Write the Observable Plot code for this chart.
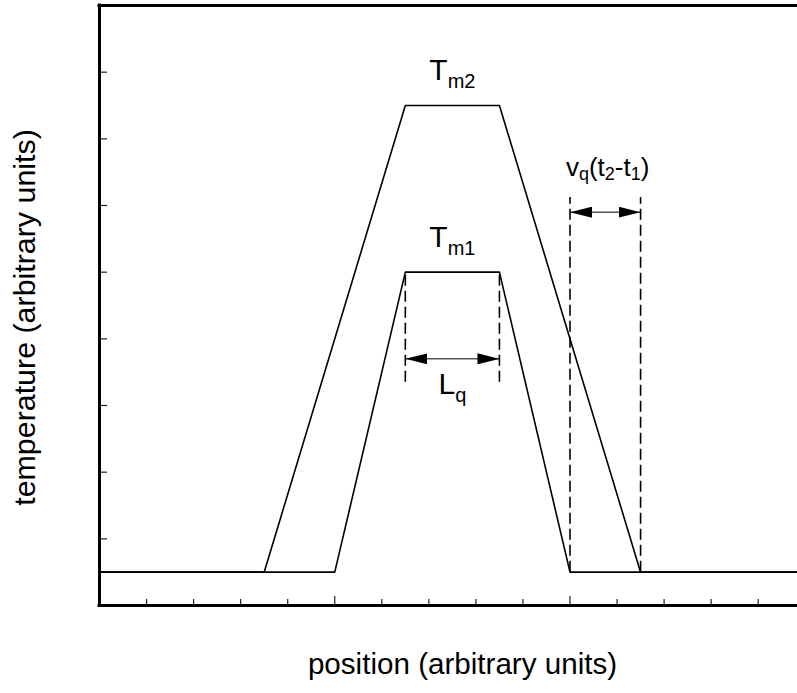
<!DOCTYPE html>
<html>
<head>
<meta charset="utf-8">
<script src="https://cdn.jsdelivr.net/npm/d3@7"></script>
<script src="https://cdn.jsdelivr.net/npm/@observablehq/plot@0.6"></script>
<style>
  html, body { margin: 0; padding: 0; background: #fff; }
  #chart svg { display: block; }
</style>
</head>
<body>
<div id="chart"></div>
<script>
// Temperature profiles at two instants (t1 and t2)
const positions1 = [0, 5, 6.5, 8.5, 10, 15];
const temps1     = [0.5, 0.5, 5, 5, 0.5, 0.5];
const positions2 = [0, 3.5, 6.5, 8.5, 11.5, 15];
const temps2     = [0.5, 0.5, 7.5, 7.5, 0.5, 0.5];

// Dashed guide lines
const guideX      = [6.5, 8.5, 10, 11.5];
const guideTop    = [5, 5, 6.12, 6.12];
const guideBottom = [3.35, 3.35, 0.5, 0.5];

// Double-headed dimension arrows
const arrowX1 = [6.5, 10];
const arrowX2 = [8.5, 11.5];
const arrowY  = [3.7, 5.9];

// Annotations (underscore-braces mark a subscript)
const peakText = ["T_{m2}", "T_{m1}", "L_{q}"];
const peakX    = [7.5, 7.5, 7.5];
const peakY    = [7.89, 5.385, 3.18];
const speedText = ["v_{q}(t_{2}-t_{1})"];
const speedX    = [10.8];
const speedY    = [6.45];

// Axis ticks (no tick labels)
const yTicks = [0, 1, 2, 3, 4, 5, 6, 7, 8, 9];
const xMinorTicks = [1, 2, 3, 4, 6, 7, 8, 9, 11, 12, 13, 14];
const xMajorTicks = [0, 5, 10];

const xLabel = "position (arbitrary units)";
const yLabel = "temperature (arbitrary units)";

const W = 797, H = 693;
const mL = 99, mR = 0, mT = 5, mB = 88;
const frameW = W - mL - mR, frameH = H - mT - mB;

const series = [
  ...positions1.map((x, i) => ({series: "t1", x, y: temps1[i]})),
  ...positions2.map((x, i) => ({series: "t2", x, y: temps2[i]}))
];
const guides = guideX.map((x, i) => ({x, y1: guideBottom[i], y2: guideTop[i]}));
const arrows = arrowX1.map((x1, i) => ({x1, x2: arrowX2[i], y: arrowY[i]}));
const peaks = peakText.map((text, i) => ({text, x: peakX[i], y: peakY[i]}));
const speed = speedText.map((text, i) => ({text, x: speedX[i], y: speedY[i]}));

// Filled, elongated arrowhead
function filledArrow() {
  const m = d3.create("svg:marker")
    .attr("viewBox", "0 -5.5 22 11")
    .attr("markerWidth", 22)
    .attr("markerHeight", 11)
    .attr("markerUnits", "userSpaceOnUse")
    .attr("orient", "auto-start-reverse")
    .attr("refX", 22)
    .attr("refY", 0)
    .attr("fill", "black")
    .attr("stroke", "none");
  m.append("path").attr("d", "M0,-5.5L22,0L0,5.5Z");
  return m.node();
}

const chart = Plot.plot({
  width: W,
  height: H,
  marginLeft: mL,
  marginRight: mR,
  marginTop: mT,
  marginBottom: mB,
  style: {fontFamily: "'Liberation Sans', Arial, sans-serif", background: "#fff", color: "#000"},
  x: {domain: [0, frameW / 47.05], axis: null},
  y: {domain: [0, 9], axis: null},
  marks: [
    // ticks pointing inward
    Plot.tickY(yTicks, {y: d => d, insetRight: frameW - 8, stroke: "#222", strokeWidth: 1.2}),
    Plot.tickX(xMinorTicks, {x: d => d, insetTop: frameH - 6, stroke: "#222", strokeWidth: 1.2}),
    Plot.tickX(xMajorTicks, {x: d => d, insetTop: frameH - 9, stroke: "#222", strokeWidth: 1.2}),
    // profiles
    Plot.line(series, {x: "x", y: "y", z: "series", stroke: "black", strokeWidth: 1.6, clip: true}),
    // dashed guides
    Plot.ruleX(guides, {x: "x", y1: "y1", y2: "y2", stroke: "black", strokeWidth: 1.6, strokeDasharray: "11,5"}),
    // dimension arrows
    Plot.link(arrows, {x1: "x1", x2: "x2", y1: "y", y2: "y", stroke: "black", strokeWidth: 1,
      markerStart: filledArrow, markerEnd: filledArrow}),
    // frame: left, bottom, top
    Plot.ruleX([0], {stroke: "black", strokeWidth: 3, strokeLinecap: "square"}),
    Plot.ruleY([0, 9], {stroke: "black", strokeWidth: 3, strokeLinecap: "square"}),
    // annotations
    Plot.text(peaks, {x: "x", y: "y", text: "text", fontSize: 30, lineAnchor: "bottom",
      textAnchor: "middle", fill: "black"}),
    Plot.text(speed, {x: "x", y: "y", text: "text", fontSize: 26, lineAnchor: "bottom",
      textAnchor: "middle", fill: "black"}),
    // axis titles
    Plot.text([xLabel], {frameAnchor: "bottom", text: d => d, fontSize: 29.6, lineAnchor: "bottom",
      textAnchor: "middle", dx: 14, dy: 68, fill: "black"}),
    Plot.text([yLabel], {frameAnchor: "left", text: d => d, fontSize: 30.4, lineAnchor: "bottom",
      textAnchor: "middle", rotate: -90, dx: -65, dy: 12, fill: "black"})
  ]
});

// Turn "_{...}" runs into lowered, smaller tspans; sizes follow the mark's font size
function subscriptify(root) {
  root.querySelectorAll("text").forEach(el => {
    if (!el.textContent.includes("_{")) return;
    const g = el.closest("[font-size]");
    const size = g ? parseFloat(g.getAttribute("font-size")) : 26;
    const large = size >= 28;
    const subSize = large ? 20 : 18;
    const shift = large ? 8 : 4;
    const parts = el.textContent.split(/(_\{[^}]*\})/).filter(s => s.length);
    el.textContent = "";
    let lowered = false;
    for (const p of parts) {
      const ts = document.createElementNS("http://www.w3.org/2000/svg", "tspan");
      if (p.startsWith("_{")) {
        ts.textContent = p.slice(2, -1);
        ts.setAttribute("font-size", subSize);
        ts.setAttribute("dy", lowered ? 0 : shift);
        lowered = true;
      } else {
        ts.textContent = p;
        ts.setAttribute("dy", lowered ? -shift : 0);
        lowered = false;
      }
      el.appendChild(ts);
    }
  });
}
subscriptify(chart);

document.getElementById("chart").appendChild(chart);
</script>
</body>
</html>
